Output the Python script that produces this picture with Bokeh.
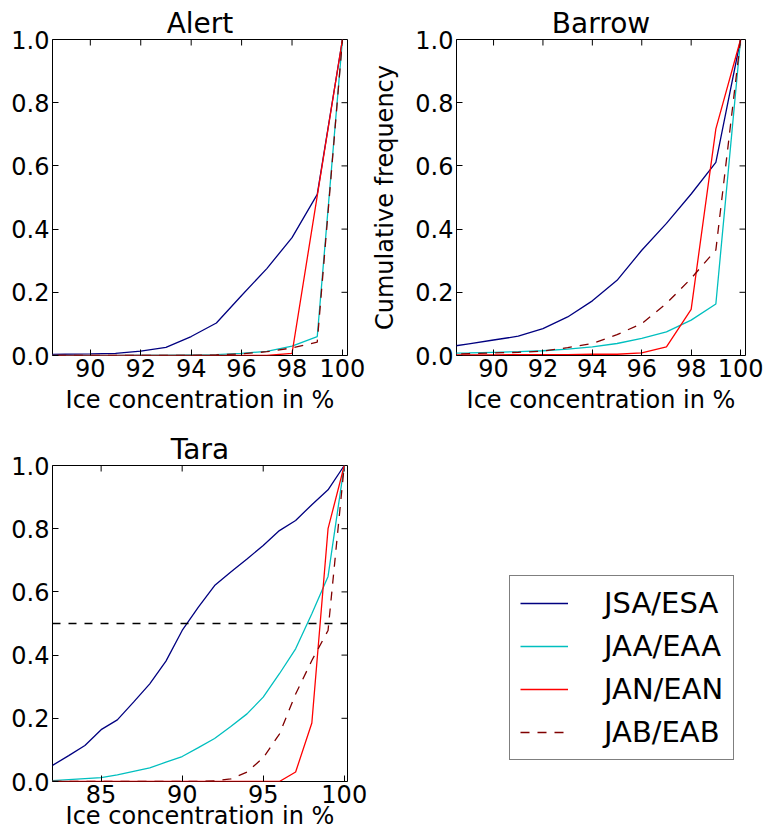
import math
from bokeh.plotting import figure
from bokeh.models import (Range1d, FixedTicker, LinearAxis, PrintfTickFormatter,
                          Span, Legend, LegendItem)
from bokeh.layouts import row, column
from bokeh.embed import file_html
from bokeh.resources import INLINE

FONT = "DejaVu Sans"

# ---------------- data ----------------
series_names = ["JSA/ESA", "JAA/EAA", "JAN/EAN", "JAB/EAB"]
series_colors = ["#000080", "#00bfbf", "#ff0000", "#800000"]
series_dash = ["solid", "solid", "solid", "9 8"]

alert_x = [88, 89, 90, 91, 92, 93, 94, 95, 96, 97, 98, 99, 100]
alert_jsa = [0.003, 0.004, 0.005, 0.007, 0.014, 0.026, 0.060, 0.103, 0.190, 0.275, 0.373, 0.510, 1.0]
alert_jaa = [0.0, 0.0, 0.0, 0.0, 0.001, 0.001, 0.002, 0.003, 0.007, 0.013, 0.030, 0.060, 1.0]
alert_jan = [0.0, 0.0, 0.0, 0.0, 0.0, 0.0, 0.0, 0.0, 0.0, 0.0, 0.007, 0.505, 1.0]
alert_jab = [0.0, 0.0, 0.0, 0.0, 0.0, 0.0, 0.0, 0.002, 0.005, 0.012, 0.024, 0.042, 1.0]

barrow_x = [88, 89, 90, 91, 92, 93, 94, 95, 96, 97, 98, 99, 100]
barrow_jsa = [0.025, 0.037, 0.049, 0.061, 0.085, 0.122, 0.173, 0.238, 0.333, 0.418, 0.511, 0.611, 1.0]
barrow_jaa = [0.007, 0.008, 0.010, 0.012, 0.015, 0.020, 0.027, 0.038, 0.054, 0.075, 0.112, 0.163, 1.0]
barrow_jan = [0.002, 0.002, 0.002, 0.003, 0.003, 0.003, 0.004, 0.004, 0.008, 0.027, 0.146, 0.717, 1.0]
barrow_jab = [0.004, 0.006, 0.008, 0.010, 0.014, 0.025, 0.038, 0.066, 0.101, 0.165, 0.244, 0.334, 1.0]

tara_x = [82, 83, 84, 85, 86, 87, 88, 89, 90, 91, 92, 93, 94, 95, 96, 97, 98, 99, 100]
tara_jsa = [0.051, 0.082, 0.114, 0.164, 0.195, 0.251, 0.309, 0.381, 0.478, 0.552,
            0.620, 0.663, 0.704, 0.747, 0.794, 0.826, 0.876, 0.923, 1.0]
tara_jaa = [0.003, 0.006, 0.009, 0.012, 0.021, 0.032, 0.043, 0.061, 0.079, 0.107,
            0.136, 0.174, 0.214, 0.267, 0.341, 0.420, 0.531, 0.649, 1.0]
tara_jan = [0.0, 0.0, 0.0, 0.0, 0.0, 0.0, 0.0, 0.0, 0.0, 0.0,
            0.0, 0.0, 0.0, 0.0, 0.0, 0.030, 0.185, 0.800, 1.0]
tara_jab = [0.0, 0.0, 0.0, 0.0, 0.0, 0.0, 0.0, 0.0, 0.0, 0.0,
            0.002, 0.008, 0.030, 0.075, 0.150, 0.277, 0.383, 0.478, 1.0]
tara_median = 0.5

short_xticks = [90, 92, 94, 96, 98, 100]
tara_xticks = [85, 90, 95, 100]
yticks = [0.0, 0.2, 0.4, 0.6, 0.8, 1.0]
xlabel = "Ice concentration in %"
ylabel = "Cumulative frequency"

TICK = 6


def style_axis(ax):
    ax.axis_line_color = None
    ax.major_tick_in = TICK
    ax.major_tick_out = 0
    ax.major_tick_line_color = "black"
    ax.minor_tick_line_color = None
    ax.major_label_text_font = FONT
    ax.major_label_text_font_size = "24px"
    ax.major_label_text_color = "black"
    ax.major_label_standoff = 3


def make_panel(title, x, ys, xr, xticks, width, height, borders, ylab=None,
               xlab_standoff=6):
    left, right, top, bottom = borders
    p = figure(width=width, height=height, x_range=Range1d(*xr), y_range=Range1d(0, 1),
               toolbar_location=None, output_backend="svg",
               min_border_left=left, min_border_right=right,
               min_border_top=top, min_border_bottom=bottom,
               x_axis_type=None, y_axis_type=None)
    p.background_fill_color = "white"
    p.border_fill_color = "white"
    p.outline_line_color = "black"
    p.outline_line_width = 1
    p.title.text = title
    p.title.text_font = FONT
    p.title.text_font_size = "28px"
    p.title.text_font_style = "normal"
    p.title.text_color = "black"
    p.title.align = "center"
    p.title.standoff = 0

    xb = LinearAxis(ticker=FixedTicker(ticks=xticks), axis_label=xlabel)
    style_axis(xb)
    xb.axis_label_text_font = FONT
    xb.axis_label_text_font_size = "24px"
    xb.axis_label_text_font_style = "normal"
    xb.axis_label_text_color = "black"
    xb.axis_label_standoff = xlab_standoff
    p.add_layout(xb, "below")

    yl = LinearAxis(ticker=FixedTicker(ticks=yticks),
                    formatter=PrintfTickFormatter(format="%.1f"), axis_label=ylab)
    style_axis(yl)
    if ylab:
        yl.axis_label_text_font = FONT
        yl.axis_label_text_font_size = "24px"
        yl.axis_label_text_font_style = "normal"
        yl.axis_label_text_color = "black"
        yl.axis_label_standoff = 13
    p.add_layout(yl, "left")

    # mirrored inward ticks on the top and right frame edges
    p.ray(x=xticks, y=[p.y_range.end] * len(xticks), length=TICK, length_units="screen",
          angle=-math.pi / 2, line_color="black", line_width=1)
    p.ray(x=[p.x_range.end] * len(yticks), y=yticks, length=TICK, length_units="screen",
          angle=math.pi, line_color="black", line_width=1)

    for yv, c, d in zip(ys, series_colors, series_dash):
        p.line(x, yv, line_color=c, line_dash=d, line_width=1.3)
    return p


p1 = make_panel("Alert", alert_x, [alert_jsa, alert_jaa, alert_jan, alert_jab],
                (88.5, 100.2), short_xticks, 368, 426, (52, 21, 39, 71))
p2 = make_panel("Barrow", barrow_x, [barrow_jsa, barrow_jaa, barrow_jan, barrow_jab],
                (88.5, 100.2), short_xticks, 397, 426, (82, 20, 39, 71), ylab=ylabel)
p3 = make_panel("Tara", tara_x, [tara_jsa, tara_jaa, tara_jan, tara_jab],
                (82, 100.2), tara_xticks, 368, 410, (52, 21, 39, 55), xlab_standoff=-4)
p3.add_layout(Span(location=tara_median, dimension="width", line_color="black",
                   line_dash="8 8", line_width=1.3))

# legend panel
p4 = figure(width=397, height=410, x_range=Range1d(0, 1), y_range=Range1d(0, 1),
            toolbar_location=None, output_backend="svg",
            min_border_left=0, min_border_right=0, min_border_top=0, min_border_bottom=0,
            x_axis_type=None, y_axis_type=None)
p4.title.visible = False
p4.outline_line_color = None
p4.background_fill_color = "white"
p4.border_fill_color = "white"
items = []
for name, c, d in zip(series_names, series_colors, series_dash):
    r = p4.line(x=[-2, -1], y=[-2, -1], line_color=c, line_dash=d, line_width=1.3)
    items.append(LegendItem(label=name, renderers=[r]))
legend = Legend(items=items, location=(141, 21), label_text_font=FONT,
                label_text_font_size="29px", label_text_color="black",
                glyph_width=48, glyph_height=34, label_height=34, spacing=9,
                padding=10, label_standoff=36, margin=0,
                border_line_color="black", border_line_width=1,
                background_fill_color="white", background_fill_alpha=1.0)
p4.add_layout(legend)

layout = column(row(p1, p2), row(p3, p4))
open("out.html", "w").write(file_html(layout, INLINE))
